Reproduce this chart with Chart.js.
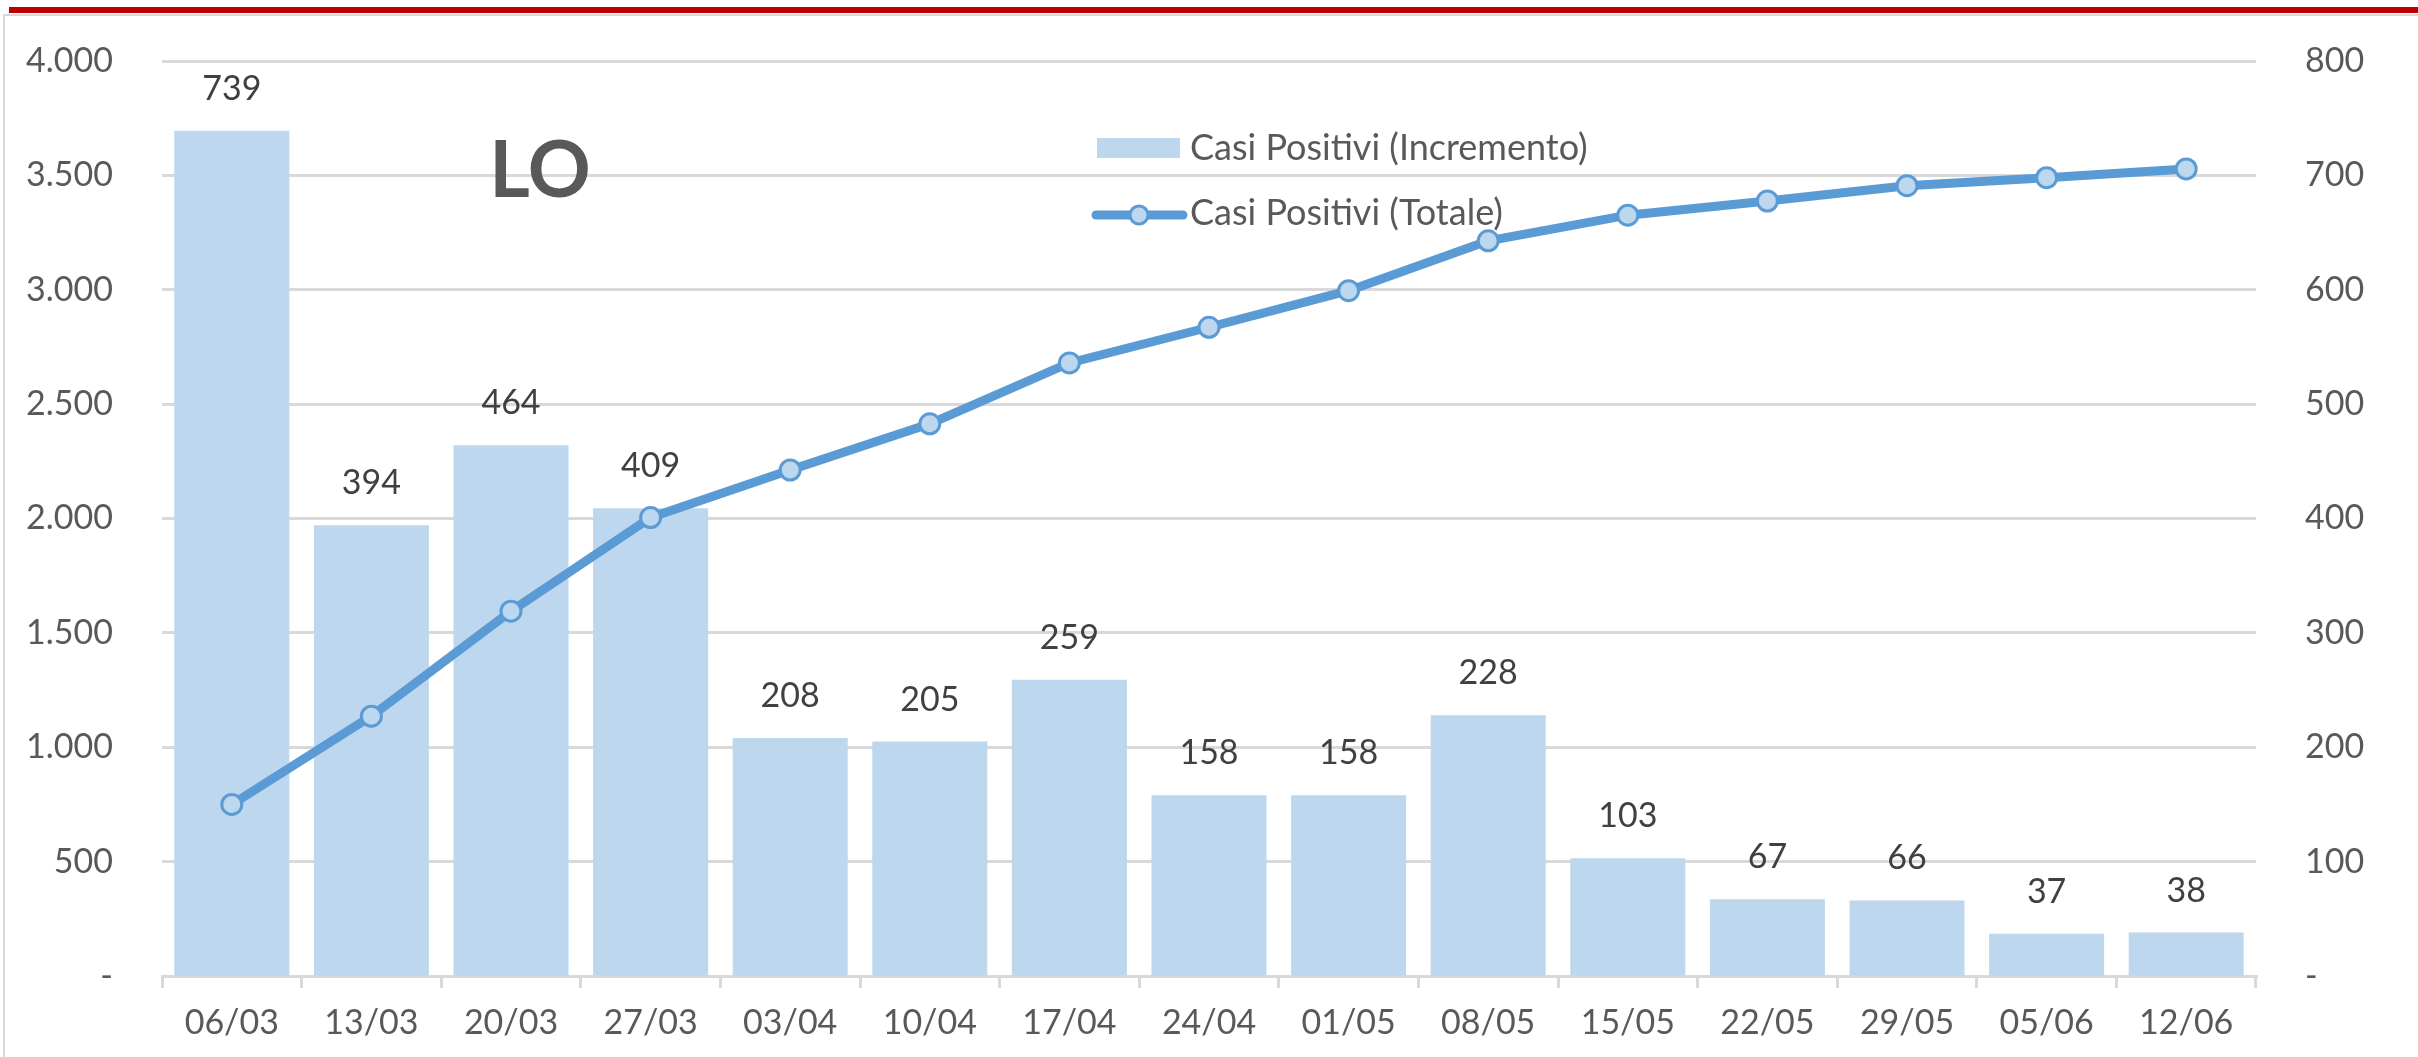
<!DOCTYPE html>
<html lang="it">
<head>
<meta charset="utf-8">
<title>LO - Casi Positivi</title>
<script src="https://cdn.jsdelivr.net/npm/chart.js@4.4.1/dist/chart.umd.min.js"></script>
<style>
    html, body { margin: 0; padding: 0; background: #fff; overflow: hidden; }
    .wrap { position: relative; width: 2418px; height: 1057px; }
    .topbar { position: absolute; left: 9px; right: 0; top: 7px; height: 6px; background: #c00000; }
    .frame { position: absolute; left: 3px; top: 14px; right: 0; bottom: 0;
             border-left: 2px solid #d9d9d9; border-top: 2px solid #d9d9d9; }
    canvas { position: absolute; left: 0; top: 0; }
</style>
</head>
<body>
<div class="wrap">
    <div class="topbar"></div>
    <div class="frame"></div>
    <canvas id="loChart" width="2418" height="1057"></canvas>
</div>
<script>
// weekly dates
const settimane = ['06/03', '13/03', '20/03', '27/03', '03/04', '10/04', '17/04', '24/04',
                   '01/05', '08/05', '15/05', '22/05', '29/05', '05/06', '12/06'];
// new positive cases per week (right axis)
const incremento = [739, 394, 464, 409, 208, 205, 259, 158, 158, 228, 103, 67, 66, 37, 38];
// running total of positive cases (left axis)
const totale = [750, 1136, 1595, 2004, 2212, 2414, 2680, 2836, 2996, 3214, 3326, 3388, 3455, 3490, 3528];

const tickSx = [0, 500, 1000, 1500, 2000, 2500, 3000, 3500, 4000];
const tickDx = [0, 100, 200, 300, 400, 500, 600, 700, 800];

const FONT = 'Lato, "Open Sans", sans-serif';
const GRIGIO = '#d9d9d9';
const TESTO = '#595959';
const BARRA = '#bdd7ee';
const LINEA = '#5b9bd5';

function formatIt(v) {
    if (v === 0) return '-';
    return String(v).replace(/\B(?=(\d{3})+(?!\d))/g, '.');
}

// y axes: fixed width, and the tick padding must not push the plot down
function fitY(scale) {
    scale.width = 162;
    scale.paddingTop = 0;
    scale.paddingBottom = 0;
}

// value labels above each bar
const etichetteBarre = {
    id: 'etichetteBarre',
    afterDatasetsDraw(chart) {
        const meta = chart.getDatasetMeta(0);
        const ctx = chart.ctx;
        ctx.save();
        ctx.font = '34px ' + FONT;
        ctx.fillStyle = '#404040';
        ctx.textAlign = 'center';
        ctx.textBaseline = 'middle';
        meta.data.forEach((bar, i) => {
            ctx.fillText(String(incremento[i]), bar.x, bar.y - 42);
        });
        ctx.restore();
    }
};

// legend and "LO" heading inside the plot
const legendaLO = {
    id: 'legendaLO',
    afterDraw(chart) {
        const ctx = chart.ctx;
        const o = chart.options.plugins.legendaLO;
        ctx.save();

        ctx.font = 'bold 78px ' + FONT;
        ctx.fillStyle = TESTO;
        ctx.textAlign = 'center';
        ctx.textBaseline = 'middle';
        ctx.fillText('LO', o.titleX, o.titleY);

        ctx.font = '36px ' + FONT;
        ctx.textAlign = 'left';
        ctx.fillStyle = BARRA;
        ctx.fillRect(o.x, o.y1 - 10, 83, 20);
        ctx.fillStyle = TESTO;
        ctx.fillText(chart.data.datasets[0].label, o.x + 93, o.y1);

        ctx.strokeStyle = LINEA;
        ctx.lineWidth = 9;
        ctx.lineCap = 'round';
        ctx.beginPath();
        ctx.moveTo(o.x - 1, o.y2);
        ctx.lineTo(o.x + 86, o.y2);
        ctx.stroke();
        ctx.beginPath();
        ctx.arc(o.x + 42, o.y2, 9, 0, Math.PI * 2);
        ctx.fillStyle = BARRA;
        ctx.fill();
        ctx.lineWidth = 3;
        ctx.stroke();
        ctx.fillStyle = TESTO;
        ctx.fillText(chart.data.datasets[1].label, o.x + 93, o.y2 - 2);
        ctx.restore();
    }
};

Chart.defaults.font.family = FONT;
Chart.defaults.font.size = 34;
Chart.defaults.color = TESTO;

function disegna() {
    const ctx = document.getElementById('loChart').getContext('2d');
    new Chart(ctx, {
        data: {
            labels: settimane,
            datasets: [{
                type: 'bar',
                label: 'Casi Positivi (Incremento)',
                data: incremento,
                yAxisID: 'yDx',
                backgroundColor: BARRA,
                borderWidth: 0,
                barPercentage: 0.824,
                categoryPercentage: 1,
                order: 2
            }, {
                type: 'line',
                label: 'Casi Positivi (Totale)',
                data: totale,
                yAxisID: 'ySx',
                borderColor: LINEA,
                borderWidth: 9,
                pointRadius: 10,
                pointBorderWidth: 3,
                pointBackgroundColor: BARRA,
                pointBorderColor: LINEA,
                tension: 0,
                order: 1
            }]
        },
        options: {
            responsive: false,
            animation: false,
            devicePixelRatio: 1,
            layout: { padding: { top: 61, left: 0, right: 0, bottom: 0 } },
            plugins: {
                legend: { display: false },
                tooltip: { enabled: false },
                legendaLO: { x: 1097, y1: 148, y2: 215, titleX: 540, titleY: 172 }
            },
            scales: {
                x: {
                    offset: true,
                    grid: {
                        offset: true,
                        drawOnChartArea: false,
                        drawTicks: true,
                        tickLength: 12,
                        color: GRIGIO,
                        lineWidth: 3
                    },
                    border: { display: true, color: GRIGIO, width: 3 },
                    ticks: { padding: 15, color: TESTO, maxRotation: 0, autoSkip: false },
                    afterFit(scale) { scale.height = 81; }
                },
                ySx: {
                    position: 'left',
                    min: 0,
                    max: 4000,
                    afterBuildTicks(scale) { scale.ticks = tickSx.map(v => ({ value: v })); },
                    grid: { color: GRIGIO, lineWidth: 3, drawTicks: false },
                    border: { display: false },
                    ticks: { padding: 49, color: TESTO, callback: v => formatIt(v) },
                    afterFit: fitY
                },
                yDx: {
                    position: 'right',
                    min: 0,
                    max: 800,
                    afterBuildTicks(scale) { scale.ticks = tickDx.map(v => ({ value: v })); },
                    grid: { drawOnChartArea: false, drawTicks: false },
                    border: { display: false },
                    ticks: { padding: 49, color: TESTO, callback: v => formatIt(v) },
                    afterFit: fitY
                }
            }
        },
        plugins: [etichetteBarre, legendaLO]
    });
}

if (document.fonts && document.fonts.load) {
    Promise.all([document.fonts.load('34px Lato'), document.fonts.load('bold 78px Lato')])
        .then(disegna, disegna);
} else {
    disegna();
}
</script>
</body>
</html>
